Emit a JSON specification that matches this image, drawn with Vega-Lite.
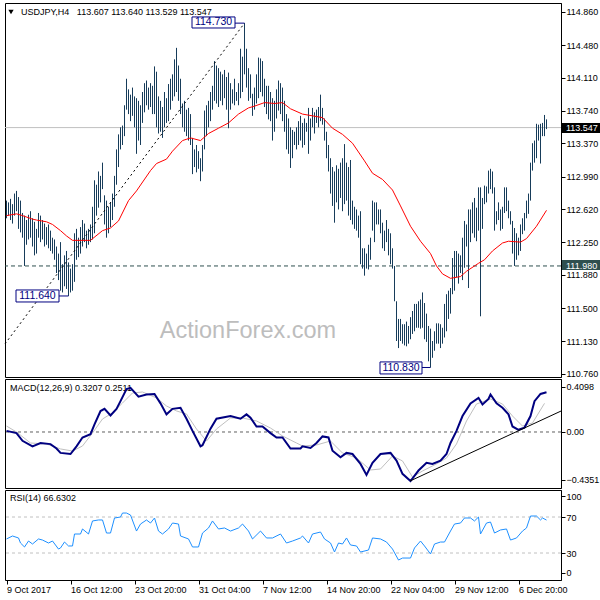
{
"$schema":"https://vega.github.io/schema/vega-lite/v6.json",
"background":"#FFFFFF",
"padding":{"left":2,"top":2,"right":0,"bottom":0},
"config":{"view":{"stroke":"#000000","strokeWidth":1,"fill":"#FFFFFF"},"font":"Liberation Sans","text":{"font":"Liberation Sans"}},
"spacing":2,
"bounds":"flush",
"datasets":{
"bars":[
{"i":0,"h":112.72,"l":112.52},{"i":1,"h":112.70,"l":112.55},{"i":2,"h":112.74,"l":112.50},{"i":3,"h":112.68,"l":112.46},{"i":4,"h":112.80,"l":112.55},{"i":5,"h":112.83,"l":112.60},{"i":6,"h":112.76,"l":112.40},{"i":7,"h":112.72,"l":112.36},{"i":8,"h":112.58,"l":112.30},{"i":9,"h":112.55,"l":111.98},
{"i":10,"h":112.50,"l":112.22},{"i":11,"h":112.56,"l":112.28},{"i":12,"h":112.60,"l":112.30},{"i":13,"h":112.52,"l":112.20},{"i":14,"h":112.48,"l":112.10},{"i":15,"h":112.40,"l":112.12},{"i":16,"h":112.58,"l":112.30},{"i":17,"h":112.55,"l":112.25},{"i":18,"h":112.50,"l":112.28},{"i":19,"h":112.46,"l":112.20},
{"i":20,"h":112.42,"l":112.22},{"i":21,"h":112.45,"l":112.18},{"i":22,"h":112.38,"l":112.15},{"i":23,"h":112.30,"l":112.12},{"i":24,"h":112.28,"l":112.05},{"i":25,"h":112.20,"l":111.90},{"i":26,"h":112.12,"l":111.82},{"i":27,"h":112.25,"l":111.70},{"i":28,"h":112.00,"l":111.68},{"i":29,"h":112.10,"l":111.75},
{"i":30,"h":112.15,"l":111.72},{"i":31,"h":112.02,"l":111.64},{"i":32,"h":111.95,"l":111.68},{"i":33,"h":112.00,"l":111.70},{"i":34,"h":112.35,"l":111.80},{"i":35,"h":112.40,"l":112.05},{"i":36,"h":112.30,"l":112.08},{"i":37,"h":112.42,"l":112.12},{"i":38,"h":112.50,"l":112.20},{"i":39,"h":112.46,"l":112.25},
{"i":40,"h":112.38,"l":112.18},{"i":41,"h":112.40,"l":112.22},{"i":42,"h":112.45,"l":112.25},{"i":43,"h":112.65,"l":112.28},{"i":44,"h":112.95,"l":112.35},{"i":45,"h":112.90,"l":112.55},{"i":46,"h":113.05,"l":112.64},{"i":47,"h":113.00,"l":112.70},{"i":48,"h":113.15,"l":112.85},{"i":49,"h":112.78,"l":112.45},
{"i":50,"h":112.72,"l":112.30},{"i":51,"h":112.65,"l":112.35},{"i":52,"h":112.70,"l":112.42},{"i":53,"h":112.80,"l":112.50},{"i":54,"h":113.00,"l":112.65},{"i":55,"h":113.30,"l":112.90},{"i":56,"h":113.47,"l":113.10},{"i":57,"h":113.55,"l":113.30},{"i":58,"h":113.57,"l":113.35},{"i":59,"h":113.80,"l":113.45},
{"i":60,"h":114.10,"l":113.75},{"i":61,"h":113.98,"l":113.70},{"i":62,"h":113.92,"l":113.62},{"i":63,"h":114.00,"l":113.68},{"i":64,"h":113.90,"l":113.55},{"i":65,"h":113.88,"l":113.25},{"i":66,"h":113.85,"l":113.40},{"i":67,"h":113.80,"l":113.35},{"i":68,"h":113.95,"l":113.60},{"i":69,"h":114.05,"l":113.72},
{"i":70,"h":114.08,"l":113.80},{"i":71,"h":114.00,"l":113.75},{"i":72,"h":114.05,"l":113.78},{"i":73,"h":114.02,"l":113.70},{"i":74,"h":114.24,"l":113.70},{"i":75,"h":114.18,"l":113.55},{"i":76,"h":113.90,"l":113.48},{"i":77,"h":113.85,"l":113.50},{"i":78,"h":113.78,"l":113.43},{"i":79,"h":113.95,"l":113.55},
{"i":80,"h":113.88,"l":113.60},{"i":81,"h":114.04,"l":113.62},{"i":82,"h":114.10,"l":113.75},{"i":83,"h":114.15,"l":113.85},{"i":84,"h":114.32,"l":113.90},{"i":85,"h":114.45,"l":113.95},{"i":86,"h":114.25,"l":113.85},{"i":87,"h":114.10,"l":113.70},{"i":88,"h":113.82,"l":113.55},{"i":89,"h":113.85,"l":113.50},
{"i":90,"h":113.75,"l":113.45},{"i":91,"h":113.77,"l":113.40},{"i":92,"h":113.70,"l":113.35},{"i":93,"h":113.43,"l":113.02},{"i":94,"h":113.30,"l":113.10},{"i":95,"h":113.35,"l":113.04},{"i":96,"h":113.28,"l":113.08},{"i":97,"h":113.20,"l":112.94},{"i":98,"h":113.35,"l":113.05},{"i":99,"h":113.74,"l":113.30},
{"i":100,"h":113.80,"l":113.45},{"i":101,"h":113.85,"l":113.55},{"i":102,"h":113.95,"l":113.62},{"i":103,"h":114.02,"l":113.75},{"i":104,"h":114.30,"l":113.85},{"i":105,"h":114.25,"l":113.82},{"i":106,"h":114.22,"l":113.78},{"i":107,"h":114.18,"l":113.85},{"i":108,"h":114.15,"l":113.80},{"i":109,"h":114.20,"l":113.88},
{"i":110,"h":114.12,"l":113.75},{"i":111,"h":114.17,"l":113.54},{"i":112,"h":114.05,"l":113.75},{"i":113,"h":113.98,"l":113.82},{"i":114,"h":114.10,"l":113.80},{"i":115,"h":113.95,"l":113.85},{"i":116,"h":114.05,"l":113.80},{"i":117,"h":114.44,"l":113.88},{"i":118,"h":114.35,"l":113.95},{"i":119,"h":114.73,"l":114.15},
{"i":120,"h":114.44,"l":114.00},{"i":121,"h":114.22,"l":113.85},{"i":122,"h":114.15,"l":113.88},{"i":123,"h":113.93,"l":113.68},{"i":124,"h":114.00,"l":113.75},{"i":125,"h":114.15,"l":113.82},{"i":126,"h":114.34,"l":113.88},{"i":127,"h":114.33,"l":113.95},{"i":128,"h":114.30,"l":113.90},{"i":129,"h":114.10,"l":113.78},
{"i":130,"h":114.02,"l":113.70},{"i":131,"h":114.02,"l":113.64},{"i":132,"h":113.95,"l":113.62},{"i":133,"h":113.88,"l":113.40},{"i":134,"h":113.85,"l":113.50},{"i":135,"h":113.98,"l":113.65},{"i":136,"h":114.08,"l":113.74},{"i":137,"h":114.05,"l":113.70},{"i":138,"h":114.00,"l":113.62},{"i":139,"h":113.85,"l":113.50},
{"i":140,"h":113.70,"l":113.30},{"i":141,"h":113.65,"l":113.25},{"i":142,"h":113.55,"l":113.09},{"i":143,"h":113.52,"l":113.20},{"i":144,"h":113.50,"l":113.35},{"i":145,"h":113.55,"l":113.30},{"i":146,"h":113.62,"l":113.35},{"i":147,"h":113.68,"l":113.40},{"i":148,"h":113.60,"l":113.32},{"i":149,"h":113.65,"l":113.35},
{"i":150,"h":113.60,"l":113.50},{"i":151,"h":113.77,"l":113.25},{"i":152,"h":113.65,"l":113.40},{"i":153,"h":113.77,"l":113.55},{"i":154,"h":113.72,"l":113.48},{"i":155,"h":113.75,"l":113.60},{"i":156,"h":113.78,"l":113.55},{"i":157,"h":113.92,"l":113.62},{"i":158,"h":113.77,"l":113.58},{"i":159,"h":113.65,"l":113.40},
{"i":160,"h":113.50,"l":113.20},{"i":161,"h":113.35,"l":113.05},{"i":162,"h":113.20,"l":112.80},{"i":163,"h":113.10,"l":112.66},{"i":164,"h":113.05,"l":112.47},{"i":165,"h":113.12,"l":112.70},{"i":166,"h":113.08,"l":112.62},{"i":167,"h":113.15,"l":112.75},{"i":168,"h":113.20,"l":112.60},{"i":169,"h":113.36,"l":112.68},
{"i":170,"h":113.15,"l":112.72},{"i":171,"h":113.10,"l":112.55},{"i":172,"h":113.18,"l":112.50},{"i":173,"h":112.72,"l":112.45},{"i":174,"h":112.65,"l":112.40},{"i":175,"h":112.62,"l":112.38},{"i":176,"h":112.55,"l":112.30},{"i":177,"h":112.60,"l":112.00},{"i":178,"h":112.18,"l":111.95},{"i":179,"h":112.18,"l":111.87},
{"i":180,"h":112.12,"l":111.95},{"i":181,"h":112.22,"l":111.94},{"i":182,"h":112.30,"l":112.05},{"i":183,"h":112.72,"l":112.38},{"i":184,"h":112.70,"l":112.25},{"i":185,"h":112.70,"l":112.45},{"i":186,"h":112.62,"l":112.45},{"i":187,"h":112.62,"l":112.35},{"i":188,"h":112.47,"l":112.18},{"i":189,"h":112.38,"l":112.15},
{"i":190,"h":112.50,"l":112.25},{"i":191,"h":112.40,"l":112.10},{"i":192,"h":112.35,"l":112.00},{"i":193,"h":112.18,"l":111.95},{"i":194,"h":111.98,"l":111.58},{"i":195,"h":111.58,"l":111.13},{"i":196,"h":111.38,"l":111.05},{"i":197,"h":111.38,"l":111.13},{"i":198,"h":111.32,"l":111.10},{"i":199,"h":111.32,"l":111.08},
{"i":200,"h":111.35,"l":111.07},{"i":201,"h":111.30,"l":111.10},{"i":202,"h":111.40,"l":111.15},{"i":203,"h":111.47,"l":111.21},{"i":204,"h":111.55,"l":111.24},{"i":205,"h":111.55,"l":111.28},{"i":206,"h":111.58,"l":111.28},{"i":207,"h":111.60,"l":111.27},{"i":208,"h":111.68,"l":111.28},{"i":209,"h":111.56,"l":111.15},
{"i":210,"h":111.44,"l":111.12},{"i":211,"h":111.30,"l":110.90},{"i":212,"h":111.27,"l":110.83},{"i":213,"h":111.13,"l":110.94},{"i":214,"h":111.24,"l":111.02},{"i":215,"h":111.33,"l":111.10},{"i":216,"h":111.33,"l":111.10},{"i":217,"h":111.32,"l":111.05},{"i":218,"h":111.28,"l":111.10},{"i":219,"h":111.55,"l":111.17},
{"i":220,"h":111.66,"l":111.24},{"i":221,"h":111.70,"l":111.38},{"i":222,"h":111.73,"l":111.44},{"i":223,"h":112.07,"l":111.66},{"i":224,"h":112.15,"l":111.70},{"i":225,"h":112.15,"l":111.85},{"i":226,"h":112.12,"l":111.78},{"i":227,"h":112.10,"l":111.90},{"i":228,"h":112.30,"l":111.82},{"i":229,"h":112.49,"l":111.96},
{"i":230,"h":112.45,"l":112.20},{"i":231,"h":112.62,"l":111.73},{"i":232,"h":112.62,"l":112.25},{"i":233,"h":112.70,"l":112.35},{"i":234,"h":112.75,"l":112.30},{"i":235,"h":112.64,"l":112.26},{"i":236,"h":112.87,"l":112.38},{"i":237,"h":112.87,"l":111.41},{"i":238,"h":112.75,"l":112.40},{"i":239,"h":112.89,"l":112.68},
{"i":240,"h":112.88,"l":112.70},{"i":241,"h":113.06,"l":112.80},{"i":242,"h":113.08,"l":112.85},{"i":243,"h":113.05,"l":112.80},{"i":244,"h":112.87,"l":112.38},{"i":245,"h":112.60,"l":112.45},{"i":246,"h":112.70,"l":112.50},{"i":247,"h":112.62,"l":112.38},{"i":248,"h":112.65,"l":112.40},{"i":249,"h":112.87,"l":112.58},
{"i":250,"h":112.87,"l":112.60},{"i":251,"h":112.72,"l":112.52},{"i":252,"h":112.60,"l":112.45},{"i":253,"h":112.49,"l":112.12},{"i":254,"h":112.41,"l":111.98},{"i":255,"h":112.35,"l":112.05},{"i":256,"h":112.30,"l":112.10},{"i":257,"h":112.45,"l":112.15},{"i":258,"h":112.52,"l":112.34},{"i":259,"h":112.58,"l":112.38},
{"i":260,"h":112.72,"l":112.52},{"i":261,"h":112.80,"l":112.57},{"i":262,"h":113.15,"l":112.72},{"i":263,"h":113.37,"l":113.06},{"i":264,"h":113.40,"l":113.15},{"i":265,"h":113.59,"l":113.20},{"i":266,"h":113.58,"l":113.40},{"i":267,"h":113.59,"l":113.14},{"i":268,"h":113.60,"l":113.45},{"i":269,"h":113.69,"l":113.45},
{"i":270,"h":113.64,"l":113.53}
],
"ma":[
{"i":0,"v":112.55},{"i":5,"v":112.57},{"i":8,"v":112.55},{"i":13,"v":112.51},{"i":15,"v":112.50},{"i":20,"v":112.48},{"i":23,"v":112.45},{"i":27,"v":112.38},{"i":30,"v":112.32},{"i":33,"v":112.27},{"i":42,"v":112.27},{"i":48,"v":112.38},{"i":52,"v":112.41},{"i":56,"v":112.49},{"i":61,"v":112.72},{"i":65,"v":112.83},{"i":72,"v":113.06},{"i":75,"v":113.14},{"i":80,"v":113.19},{"i":83,"v":113.28},{"i":88,"v":113.40},{"i":92,"v":113.43},{"i":97,"v":113.40},{"i":101,"v":113.48},{"i":106,"v":113.54},{"i":111,"v":113.60},{"i":116,"v":113.70},{"i":121,"v":113.77},{"i":124,"v":113.79},{"i":129,"v":113.83},{"i":134,"v":113.82},{"i":138,"v":113.83},{"i":142,"v":113.76},{"i":148,"v":113.70},{"i":158,"v":113.66},{"i":163,"v":113.54},{"i":168,"v":113.47},{"i":173,"v":113.37},{"i":179,"v":113.17},{"i":183,"v":113.03},{"i":188,"v":112.96},{"i":193,"v":112.84},{"i":197,"v":112.66},{"i":202,"v":112.43},{"i":207,"v":112.26},{"i":212,"v":112.12},{"i":215,"v":111.98},{"i":218,"v":111.89},{"i":222,"v":111.84},{"i":227,"v":111.86},{"i":230,"v":111.92},{"i":236,"v":112.01},{"i":239,"v":112.05},{"i":243,"v":112.15},{"i":248,"v":112.24},{"i":251,"v":112.26},{"i":257,"v":112.25},{"i":260,"v":112.29},{"i":265,"v":112.43},{"i":270,"v":112.61}
],
"macd":[
{"i":0,"m":0.01},{"i":5,"m":-0.01},{"i":8,"m":-0.08},{"i":13,"m":-0.13},{"i":17,"m":-0.10},{"i":22,"m":-0.11},{"i":25,"m":-0.15},{"i":27,"m":-0.19},{"i":32,"m":-0.20},{"i":35,"m":-0.13},{"i":38,"m":-0.05},{"i":42,"m":-0.02},{"i":44,"m":0.07},{"i":47,"m":0.19},{"i":49,"m":0.21},{"i":52,"m":0.15},{"i":55,"m":0.21},{"i":57,"m":0.28},{"i":60,"m":0.39},{"i":62,"m":0.40},{"i":66,"m":0.32},{"i":70,"m":0.34},{"i":74,"m":0.345},{"i":77,"m":0.26},{"i":80,"m":0.16},{"i":83,"m":0.21},{"i":87,"m":0.22},{"i":90,"m":0.12},{"i":93,"m":0.01},{"i":97,"m":-0.13},{"i":98,"m":-0.12},{"i":102,"m":0.03},{"i":105,"m":0.12},{"i":112,"m":0.145},{"i":117,"m":0.12},{"i":120,"m":0.16},{"i":122,"m":0.13},{"i":125,"m":0.05},{"i":128,"m":0.05},{"i":132,"m":-0.01},{"i":135,"m":-0.05},{"i":138,"m":-0.05},{"i":142,"m":-0.15},{"i":147,"m":-0.15},{"i":148,"m":-0.13},{"i":152,"m":-0.145},{"i":155,"m":-0.10},{"i":158,"m":-0.04},{"i":161,"m":-0.05},{"i":163,"m":-0.17},{"i":167,"m":-0.23},{"i":170,"m":-0.19},{"i":173,"m":-0.20},{"i":177,"m":-0.29},{"i":180,"m":-0.39},{"i":183,"m":-0.28},{"i":187,"m":-0.20},{"i":192,"m":-0.19},{"i":195,"m":-0.26},{"i":198,"m":-0.38},{"i":202,"m":-0.445},{"i":206,"m":-0.35},{"i":210,"m":-0.28},{"i":213,"m":-0.29},{"i":217,"m":-0.26},{"i":220,"m":-0.20},{"i":222,"m":-0.10},{"i":225,"m":0.01},{"i":228,"m":0.145},{"i":232,"m":0.26},{"i":236,"m":0.31},{"i":238,"m":0.25},{"i":241,"m":0.30},{"i":242,"m":0.34},{"i":245,"m":0.26},{"i":248,"m":0.22},{"i":251,"m":0.16},{"i":253,"m":0.05},{"i":256,"m":0.02},{"i":259,"m":0.04},{"i":262,"m":0.145},{"i":264,"m":0.28},{"i":267,"m":0.345},{"i":270,"m":0.36}
],
"sig":[
{"i":0,"s":0.054},{"i":5,"s":0.0},{"i":12,"s":-0.10},{"i":20,"s":-0.109},{"i":27,"s":-0.154},{"i":33,"s":-0.173},{"i":38,"s":-0.127},{"i":43,"s":-0.009},{"i":48,"s":0.118},{"i":53,"s":0.173},{"i":58,"s":0.263},{"i":63,"s":0.354},{"i":68,"s":0.363},{"i":75,"s":0.309},{"i":80,"s":0.236},{"i":85,"s":0.191},{"i":90,"s":0.163},{"i":95,"s":0.027},{"i":100,"s":-0.082},{"i":105,"s":0.027},{"i":112,"s":0.127},{"i":118,"s":0.127},{"i":125,"s":0.10},{"i":132,"s":0.036},{"i":138,"s":-0.036},{"i":145,"s":-0.10},{"i":148,"s":-0.127},{"i":155,"s":-0.118},{"i":162,"s":-0.082},{"i":168,"s":-0.191},{"i":175,"s":-0.236},{"i":182,"s":-0.345},{"i":187,"s":-0.336},{"i":193,"s":-0.218},{"i":198,"s":-0.263},{"i":203,"s":-0.409},{"i":208,"s":-0.354},{"i":215,"s":-0.29},{"i":220,"s":-0.236},{"i":225,"s":-0.109},{"i":230,"s":0.10},{"i":235,"s":0.254},{"i":242,"s":0.30},{"i":248,"s":0.254},{"i":253,"s":0.145},{"i":258,"s":0.054},{"i":263,"s":0.082},{"i":269,"s":0.26}
],
"rsi":[
{"i":0,"r":45.6},{"i":3,"r":48.9},{"i":6,"r":46.7},{"i":7,"r":41.1},{"i":9,"r":36.7},{"i":11,"r":43.3},{"i":13,"r":40.0},{"i":16,"r":45.6},{"i":18,"r":44.4},{"i":21,"r":41.1},{"i":23,"r":43.3},{"i":26,"r":34.4},{"i":27,"r":35.6},{"i":29,"r":42.2},{"i":31,"r":37.8},{"i":33,"r":37.8},{"i":34,"r":51.1},{"i":37,"r":51.1},{"i":38,"r":56.7},{"i":41,"r":51.1},{"i":43,"r":65.6},{"i":46,"r":66.7},{"i":48,"r":66.7},{"i":50,"r":52.2},{"i":52,"r":52.2},{"i":54,"r":68.9},{"i":57,"r":70.0},{"i":58,"r":74.4},{"i":60,"r":74.4},{"i":62,"r":72.2},{"i":65,"r":54.4},{"i":67,"r":62.2},{"i":70,"r":66.7},{"i":72,"r":63.3},{"i":74,"r":68.9},{"i":76,"r":54.4},{"i":78,"r":51.1},{"i":81,"r":56.7},{"i":83,"r":63.3},{"i":86,"r":62.2},{"i":87,"r":48.9},{"i":91,"r":45.6},{"i":93,"r":36.7},{"i":96,"r":36.7},{"i":98,"r":52.2},{"i":101,"r":57.8},{"i":103,"r":65.6},{"i":106,"r":56.7},{"i":109,"r":57.8},{"i":112,"r":54.4},{"i":116,"r":57.8},{"i":118,"r":62.2},{"i":121,"r":54.4},{"i":123,"r":45.6},{"i":127,"r":54.4},{"i":130,"r":46.7},{"i":133,"r":46.7},{"i":137,"r":51.1},{"i":140,"r":41.1},{"i":143,"r":43.3},{"i":147,"r":46.7},{"i":148,"r":48.9},{"i":151,"r":41.1},{"i":153,"r":51.1},{"i":157,"r":53.3},{"i":159,"r":45.6},{"i":162,"r":41.1},{"i":164,"r":31.1},{"i":166,"r":41.1},{"i":168,"r":40.0},{"i":170,"r":46.7},{"i":172,"r":38.9},{"i":175,"r":37.8},{"i":177,"r":31.1},{"i":181,"r":33.3},{"i":183,"r":46.7},{"i":187,"r":45.6},{"i":190,"r":42.2},{"i":193,"r":34.4},{"i":196,"r":22.2},{"i":198,"r":24.4},{"i":202,"r":24.4},{"i":204,"r":35.6},{"i":207,"r":43.3},{"i":209,"r":37.8},{"i":212,"r":28.9},{"i":214,"r":40.0},{"i":217,"r":42.2},{"i":219,"r":42.2},{"i":222,"r":54.4},{"i":224,"r":62.2},{"i":227,"r":63.3},{"i":229,"r":68.9},{"i":232,"r":68.9},{"i":234,"r":65.6},{"i":236,"r":70.0},{"i":237,"r":51.1},{"i":240,"r":63.3},{"i":242,"r":64.4},{"i":244,"r":52.2},{"i":247,"r":55.6},{"i":250,"r":56.7},{"i":252,"r":44.4},{"i":255,"r":46.7},{"i":258,"r":54.4},{"i":260,"r":57.8},{"i":262,"r":71.1},{"i":265,"r":71.1},{"i":267,"r":66.7},{"i":268,"r":68.9},{"i":270,"r":66.6}
],
"notes":[
{"a":92.75,"c":114.25,"top":114.80,"bot":114.675,"p":114.73,"e":119,"tx":103.5,"ty":114.738,"t":"114.730"},
{"a":4.75,"c":26.25,"top":111.708,"bot":111.572,"p":111.64,"e":31,"tx":15.5,"ty":111.64,"t":"111.640"},
{"a":186.75,"c":207.75,"top":110.893,"bot":110.757,"p":110.83,"e":212,"tx":197.25,"ty":110.825,"t":"110.830"}
]
},
"vconcat":[
{
"width":556,"height":374,
"layer":[
{"data":{"values":[{}]},"mark":{"type":"text","text":"ActionForex.com","fontSize":23.5,"color":"#BDBDBD","align":"center","baseline":"alphabetic"},
"encoding":{"x":{"datum":120.75,"type":"quantitative","scale":{"domain":[-0.75,277.25],"nice":false,"zero":false},"axis":null},
"y":{"datum":111.165,"type":"quantitative","scale":{"domain":[110.7224,114.958],"nice":false,"zero":false},
"axis":{"orient":"right","values":[110.76,111.13,111.5,111.88,112.25,112.62,112.99,113.37,113.74,114.11,114.48,114.86],"tickCount":100,"format":".3f","title":null,"grid":false,"labelFont":"Liberation Sans","labelFontSize":9,"labelColor":"#000000","tickColor":"#000000","tickSize":4,"domainColor":"#000000","labelPadding":1,"labelOverlap":false,"labelBound":false}}}},
{"data":{"values":[{}]},"mark":{"type":"rule","color":"#C0C0C0","strokeWidth":1},"encoding":{"y":{"datum":113.547,"type":"quantitative","scale":{"domain":[110.7224,114.958],"nice":false,"zero":false}}}},
{"data":{"values":[{}]},"mark":{"type":"rule","color":"#2F4F4F","strokeWidth":1,"strokeDash":[4,3]},"encoding":{"y":{"datum":111.98,"type":"quantitative","scale":{"domain":[110.7224,114.958],"nice":false,"zero":false}}}},
{"data":{"name":"bars"},"mark":{"type":"rule","color":"#173C5A","strokeWidth":1},
"encoding":{"x":{"field":"i","type":"quantitative","scale":{"domain":[-0.75,277.25],"nice":false,"zero":false},"axis":null},
"y":{"field":"l","type":"quantitative","scale":{"domain":[110.7224,114.958],"nice":false,"zero":false},"title":null},"y2":{"field":"h"}}},
{"data":{"name":"ma"},"mark":{"type":"line","color":"#FF0000","strokeWidth":1},
"encoding":{"x":{"field":"i","type":"quantitative","scale":{"domain":[-0.75,277.25],"nice":false,"zero":false},"axis":null},
"y":{"field":"v","type":"quantitative","scale":{"domain":[110.7224,114.958],"nice":false,"zero":false},"title":null}}},
{"data":{"values":[{}]},"mark":{"type":"rule","color":"#000000","strokeWidth":1,"strokeDash":[2,3]},
"encoding":{"x":{"datum":-0.75,"type":"quantitative","scale":{"domain":[-0.75,277.25],"nice":false,"zero":false},"axis":null},"x2":{"datum":119},
"y":{"datum":111.097,"type":"quantitative","scale":{"domain":[110.7224,114.958],"nice":false,"zero":false}},"y2":{"datum":114.73}}},
{"data":{"name":"notes"},"mark":{"type":"rule","color":"#000080","strokeWidth":1},
"encoding":{"x":{"field":"c","type":"quantitative","scale":{"domain":[-0.75,277.25],"nice":false,"zero":false},"axis":null},"x2":{"field":"e"},
"y":{"field":"p","type":"quantitative","scale":{"domain":[110.7224,114.958],"nice":false,"zero":false},"title":null}}},
{"data":{"name":"notes"},"mark":{"type":"rect","fill":"#FFFFFF","stroke":"#000080","strokeWidth":1},
"encoding":{"x":{"field":"a","type":"quantitative","scale":{"domain":[-0.75,277.25],"nice":false,"zero":false},"axis":null},"x2":{"field":"c"},
"y":{"field":"top","type":"quantitative","scale":{"domain":[110.7224,114.958],"nice":false,"zero":false},"title":null},"y2":{"field":"bot"}}},
{"data":{"name":"notes"},"mark":{"type":"text","fontSize":10.5,"color":"#000080","align":"center","baseline":"middle"},
"encoding":{"x":{"field":"tx","type":"quantitative","scale":{"domain":[-0.75,277.25],"nice":false,"zero":false},"axis":null},
"y":{"field":"ty","type":"quantitative","scale":{"domain":[110.7224,114.958],"nice":false,"zero":false},"title":null},"text":{"field":"t"}}},
{"data":{"values":[{}]},"mark":{"type":"point","shape":"triangle-down","filled":true,"color":"#000000","size":28,"opacity":1},
"encoding":{"x":{"datum":2.25,"type":"quantitative","scale":{"domain":[-0.75,277.25],"nice":false,"zero":false},"axis":null},
"y":{"datum":114.856,"type":"quantitative","scale":{"domain":[110.7224,114.958],"nice":false,"zero":false}}}},
{"data":{"values":[{}]},"mark":{"type":"text","text":"USDJPY,H4\u00a0\u00a0\u00a0113.607 113.640 113.529 113.547","fontSize":9,"color":"#000000","align":"left","baseline":"middle"},
"encoding":{"x":{"datum":7.25,"type":"quantitative","scale":{"domain":[-0.75,277.25],"nice":false,"zero":false},"axis":null},
"y":{"datum":114.856,"type":"quantitative","scale":{"domain":[110.7224,114.958],"nice":false,"zero":false}}}},
{"data":{"values":[{}]},"mark":{"type":"rect","fill":"#000000"},
"encoding":{"x":{"datum":277.75,"type":"quantitative","scale":{"domain":[-0.75,277.25],"nice":false,"zero":false},"axis":null},"x2":{"datum":297.75},
"y":{"datum":113.599,"type":"quantitative","scale":{"domain":[110.7224,114.958],"nice":false,"zero":false}},"y2":{"datum":113.486}}},
{"data":{"values":[{}]},"mark":{"type":"rect","fill":"#2F4F4F"},
"encoding":{"x":{"datum":277.75,"type":"quantitative","scale":{"domain":[-0.75,277.25],"nice":false,"zero":false},"axis":null},"x2":{"datum":297.75},
"y":{"datum":112.048,"type":"quantitative","scale":{"domain":[110.7224,114.958],"nice":false,"zero":false}},"y2":{"datum":111.935}}},
{"data":{"values":[{}]},"mark":{"type":"text","text":"113.547","fontSize":9,"color":"#FFFFFF","align":"left","baseline":"middle"},
"encoding":{"x":{"datum":279.75,"type":"quantitative","scale":{"domain":[-0.75,277.25],"nice":false,"zero":false},"axis":null},
"y":{"datum":113.547,"type":"quantitative","scale":{"domain":[110.7224,114.958],"nice":false,"zero":false}}}},
{"data":{"values":[{}]},"mark":{"type":"text","text":"111.980","fontSize":9,"color":"#FFFFFF","align":"left","baseline":"middle"},
"encoding":{"x":{"datum":279.75,"type":"quantitative","scale":{"domain":[-0.75,277.25],"nice":false,"zero":false},"axis":null},
"y":{"datum":111.98,"type":"quantitative","scale":{"domain":[110.7224,114.958],"nice":false,"zero":false}}}}
]
},
{
"width":556,"height":109,
"layer":[
{"data":{"values":[{}]},"mark":{"type":"text","text":"MACD(12,26,9) 0.3207 0.2511","fontSize":9,"color":"#000000","align":"left","baseline":"middle"},
"encoding":{"x":{"datum":1.75,"type":"quantitative","scale":{"domain":[-0.75,277.25],"nice":false,"zero":false},"axis":null},
"y":{"datum":0.40,"type":"quantitative","scale":{"domain":[-0.5085,0.481],"nice":false,"zero":false},
"axis":{"orient":"right","values":[0.4098,0,-0.4351],"tickCount":100,"labelExpr":"datum.value === 0 ? '0.00' : format(datum.value, '.4f')","title":null,"grid":false,"labelFont":"Liberation Sans","labelFontSize":9,"labelColor":"#000000","tickColor":"#000000","tickSize":4,"domainColor":"#000000","labelPadding":1,"labelOverlap":false,"labelBound":false}}}},
{"data":{"values":[{}]},"mark":{"type":"rule","color":"#606060","strokeWidth":1,"strokeDash":[3,3]},"encoding":{"y":{"datum":0,"type":"quantitative","scale":{"domain":[-0.5085,0.481],"nice":false,"zero":false}}}},
{"data":{"name":"sig"},"mark":{"type":"line","color":"#C0C0C0","strokeWidth":1},
"encoding":{"x":{"field":"i","type":"quantitative","scale":{"domain":[-0.75,277.25],"nice":false,"zero":false},"axis":null},
"y":{"field":"s","type":"quantitative","scale":{"domain":[-0.5085,0.481],"nice":false,"zero":false},"title":null}}},
{"data":{"name":"macd"},"mark":{"type":"line","color":"#000080","strokeWidth":2},
"encoding":{"x":{"field":"i","type":"quantitative","scale":{"domain":[-0.75,277.25],"nice":false,"zero":false},"axis":null},
"y":{"field":"m","type":"quantitative","scale":{"domain":[-0.5085,0.481],"nice":false,"zero":false},"title":null}}},
{"data":{"values":[{}]},"mark":{"type":"rule","color":"#000000","strokeWidth":1},
"encoding":{"x":{"datum":201.75,"type":"quantitative","scale":{"domain":[-0.75,277.25],"nice":false,"zero":false},"axis":null},"x2":{"datum":277.25},
"y":{"datum":-0.445,"type":"quantitative","scale":{"domain":[-0.5085,0.481],"nice":false,"zero":false}},"y2":{"datum":0.19}}}
]
},
{
"width":556,"height":90,
"layer":[
{"data":{"values":[{}]},"mark":{"type":"text","text":"RSI(14) 66.6302","fontSize":9,"color":"#000000","align":"left","baseline":"middle"},
"encoding":{"x":{"datum":1.75,"type":"quantitative","scale":{"domain":[-0.75,277.25],"nice":false,"zero":false},
"axis":{"orient":"bottom","values":[0,32,64,96,128,160,192,224,256],"tickCount":100,"labelExpr":"['9 Oct 2017','16 Oct 12:00','23 Oct 20:00','31 Oct 04:00','7 Nov 12:00','14 Nov 20:00','22 Nov 04:00','29 Nov 12:00','6 Dec 20:00'][round(datum.value/32)]","labelAlign":"left","labelFlush":false,"labelOverlap":false,"labelBound":false,"title":null,"grid":false,"domain":false,"labelFont":"Liberation Sans","labelFontSize":9,"labelColor":"#000000","tickColor":"#000000","tickSize":4,"labelPadding":1}},
"y":{"datum":91.1,"type":"quantitative","scale":{"domain":[0,100],"nice":false,"zero":false},
"axis":{"orient":"right","values":[7.8,30,70,93.3],"tickCount":100,"labelExpr":"datum.value < 10 ? '0' : datum.value > 90 ? '100' : format(datum.value, 'd')","title":null,"grid":false,"labelFont":"Liberation Sans","labelFontSize":9,"labelColor":"#000000","tickColor":"#000000","tickSize":4,"domainColor":"#000000","labelPadding":1,"labelOverlap":false,"labelFlush":false,"labelBound":false}}}},
{"data":{"values":[{"lv":30},{"lv":70}]},"mark":{"type":"rule","color":"#C0C0C0","strokeWidth":1,"strokeDash":[3,3]},
"encoding":{"y":{"field":"lv","type":"quantitative","scale":{"domain":[0,100],"nice":false,"zero":false},"title":null}}},
{"data":{"name":"rsi"},"mark":{"type":"line","color":"#1E90FF","strokeWidth":1},
"encoding":{"x":{"field":"i","type":"quantitative","scale":{"domain":[-0.75,277.25],"nice":false,"zero":false},"title":null},
"y":{"field":"r","type":"quantitative","scale":{"domain":[0,100],"nice":false,"zero":false},"title":null}}}
]
}
]
}
